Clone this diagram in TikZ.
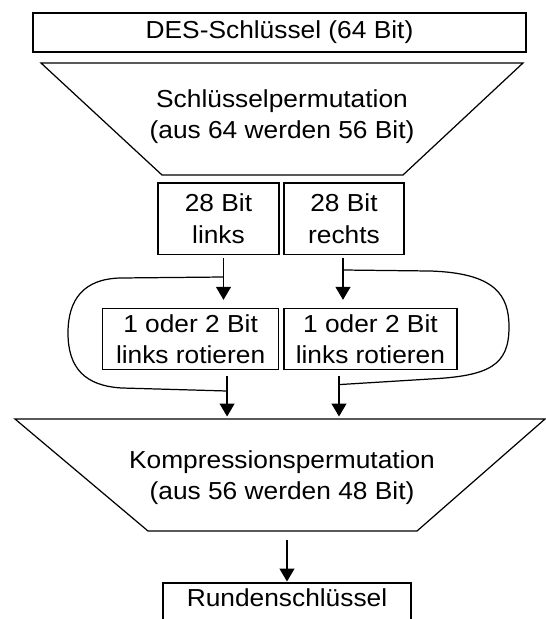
\documentclass[tikz,border=0pt]{standalone}
\usepackage{fontspec}
\setmainfont{Liberation Sans}[FakeStretch=1.07]
\usetikzlibrary{arrows.meta}

\begin{document}
\begin{tikzpicture}[x=0.02cm, y=-0.02cm, line width=0.7pt,
    box/.style={draw, inner sep=0pt, outer sep=0pt, align=center, font=\fontsize{14}{17.9}\selectfont},
    txt/.style={inner sep=0pt, align=center, font=\fontsize{14}{17.9}\selectfont},
    pfeil/.style={-{Triangle[length=0.26cm,width=0.3cm]}}]
    \useasboundingbox (0,0) rectangle (546,619);
    \clip (0,0) rectangle (546,619);

    \node[box, minimum width=9.86cm, minimum height=0.78cm] (des) at (279.5,32.5) {DES-Schlüssel (64 Bit)};

    % Schluesselpermutation
    \coordinate (s1) at (41,63);
    \coordinate (s2) at (523,63);
    \coordinate (s3) at (403,175);
    \coordinate (s4) at (162,175);
    \draw (s1) -- (s2) -- (s3) -- (s4) -- cycle;
    \node[txt] (sperm) at (282,116.5) {Schlüsselpermutation\\(aus 64 werden 56 Bit)};

    \node[box, minimum width=2.42cm, minimum height=1.43cm] (links) at (218.5,218.75) {28 Bit\\links};
    \node[box, minimum width=2.4cm, minimum height=1.43cm] (rechts) at (344,218.75) {28 Bit\\rechts};
    \node[box, minimum width=3.52cm, minimum height=1.22cm] (rotl) at (190.6,339) {1 oder 2 Bit\\links rotieren};
    \node[box, minimum width=3.46cm, minimum height=1.22cm] (rotr) at (370.4,339) {1 oder 2 Bit\\links rotieren};

    % Kompressionspermutation
    \coordinate (k1) at (15,419);
    \coordinate (k2) at (545,419);
    \coordinate (k3) at (417,531);
    \coordinate (k4) at (148,531);
    \draw (k1) -- (k2) -- (k3) -- (k4) -- cycle;
    \node[txt] (kperm) at (282,477.5) {Kompressionspermutation\\(aus 56 werden 48 Bit)};

    \node[box, anchor=north, minimum width=4.96cm, minimum height=1.6cm] (runden) at (287,583) {};
    \node[txt] (rtext) at ([yshift=-0.3cm]runden.north) {Rundenschlüssel};

    % Pfeile
    \draw[pfeil, shorten <=0.08cm, shorten >=0.174cm] ([xshift=0.1cm]links.south) -- ([xshift=0.1cm]links.south |- rotl.north);
    \draw[pfeil, shorten <=0.08cm, shorten >=0.174cm] ([xshift=-0.02cm]rechts.south) -- ([xshift=-0.02cm]rechts.south |- rotr.north);
    \draw[pfeil, shorten <=0.128cm, shorten >=0.05cm] ([xshift=0.73cm]rotl.south) -- ([xshift=0.73cm]rotl.south |- k1);
    \draw[pfeil, shorten <=0.128cm, shorten >=0.05cm] ([xshift=-0.628cm]rotr.south) -- ([xshift=-0.628cm]rotr.south |- k1);
    \draw[pfeil, shorten <=0.18cm, shorten >=0.03cm] (runden.north |- k4) -- (runden.north);

    % Schleifen
    \coordinate (ol) at (223.5,277);
    \coordinate (ul) at (227,391);
    \coordinate (or) at (343,270);
    \coordinate (ur) at (339,384.6);
    \draw (ol) -- (120,278) .. controls (84,279) and (68,299) .. (68,333)
          .. controls (68,368) and (85,386) .. (122,388) -- (ul);
    \draw (or) -- (430,271) .. controls (495,273) and (509,295) .. (509,327)
          .. controls (509,365) and (490,376) .. (430,379) -- (ur);

\end{tikzpicture}
\end{document}
